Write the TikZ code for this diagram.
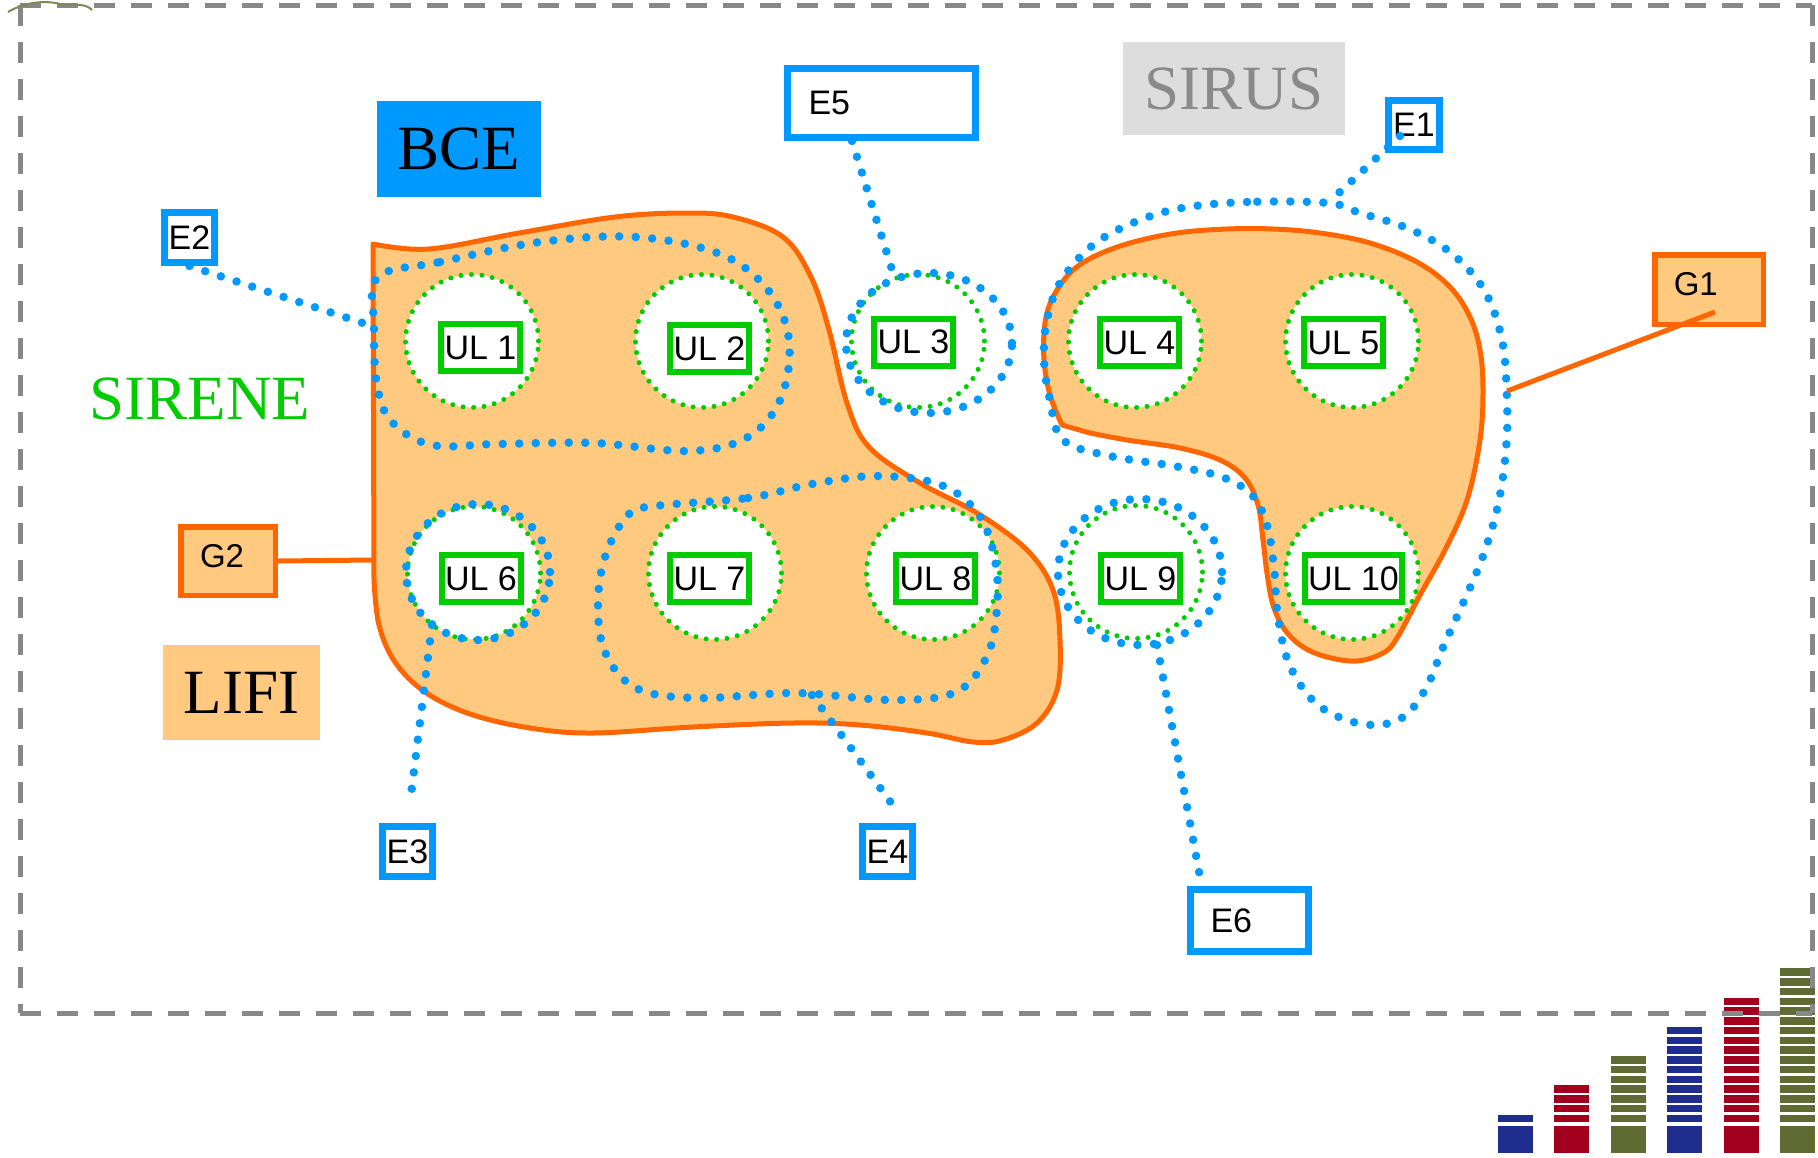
\documentclass[tikz,border=0pt]{standalone}
\usepackage{fontspec}
\setmainfont{Liberation Serif}
\setsansfont{Liberation Sans}
\definecolor{eblue}{HTML}{0099FF}
\definecolor{orstroke}{HTML}{FF6600}
\definecolor{orfill}{HTML}{FFCA80}
\definecolor{ulgreen}{HTML}{00CC00}
\definecolor{framegray}{HTML}{888888}
\definecolor{bargreen}{HTML}{5F6B32}
\definecolor{barred}{HTML}{A0001E}
\definecolor{barblue}{HTML}{1F2D8E}
\definecolor{sirusgray}{HTML}{DDDDDD}
\definecolor{sirustext}{HTML}{8A8A8A}
\begin{document}
\begin{tikzpicture}[x=1pt,y=-1pt,
  blob/.style={draw=orstroke, fill=orfill, line width=5pt, line join=round},
  bdot/.style={draw=eblue, line width=8.5pt, line cap=round, dash pattern=on 0pt off 16.5pt},
  gring/.style={circle, draw=ulgreen, fill=white, line width=5pt, line cap=round, dash pattern=on 0pt off 10.5pt, minimum size=133pt, inner sep=0pt},
  ulbox/.style={draw=ulgreen, fill=white, line width=6pt, minimum width=79pt, minimum height=47pt, inner sep=0pt, font=\sffamily\fontsize{34}{36}\selectfont},
  ebox/.style={draw=eblue, fill=white, line width=7pt, inner sep=0pt, font=\sffamily\fontsize{34}{36}\selectfont},
  gbox/.style={draw=orstroke, fill=orfill, line width=5.5pt, inner sep=0pt, font=\sffamily\fontsize{33}{36}\selectfont},
  big/.style={font=\fontsize{63}{70}\selectfont, inner sep=0pt},
  gline/.style={draw=orstroke, line width=5pt},
  framedash/.style={draw=framegray, line width=5pt, dash pattern=on 21pt off 16pt},
]
\useasboundingbox (0,0) rectangle (1818,1157);

% labels
\node[big, fill=eblue, minimum width=164pt, minimum height=96pt] (bce) at (459,149) {BCE};
\node[big, fill=sirusgray, text=sirustext, minimum width=222pt, minimum height=93pt] (sirus) at (1234,88.5) {SIRUS};
\node[big, fill=orfill, minimum width=157pt, minimum height=95pt] (lifi) at (241.5,692.5) {LIFI};
\node[big, text=ulgreen] (sirene) at (200,399) {SIRENE};

% orange regions
\draw[blob] plot[smooth, tension=0.6] coordinates {(373,244) (429,249) (519,233) (615,217) (686,213) (733,217) (783,237) (811,277) (829,330) (847,403) (869,447) (920,483) (977,513) (1027,550) (1053,590) (1060,640) (1057,690) (1037,723) (1003,740) (973,742) (927,733) (860,725) (793,723) (693,727) (593,733) (530,728) (470,714) (425,692) (395,662) (379,625) (374,580)} -- cycle;
\draw[blob] plot[smooth, tension=0.6] coordinates {(1062,425) (1050,395) (1044,360) (1045,323) (1053,297) (1070,273) (1093,257) (1130,243) (1177,233) (1227,229) (1273,229) (1320,233) (1370,243) (1417,262) (1450,287) (1470,317) (1480,350) (1483,390) (1480,440) (1467,500) (1445,550) (1420,595) (1397,638) (1383,653) (1357,661) (1327,657) (1303,647) (1285,630) (1273,605) (1267,573) (1263,540) (1258,505) (1245,478) (1220,460) (1180,448) (1127,440) (1090,433)} -- cycle;

% UL rings and boxes
\node[gring] (r1) at (472,341) {};
\node[gring] (r2) at (702,341) {};
\node[gring] (r3) at (918,341) {};
\node[gring] (r4) at (1135,341) {};
\node[gring] (r5) at (1352,341) {};
\node[gring] (r6) at (474,573) {};
\node[gring] (r7) at (715,573) {};
\node[gring] (r8) at (933,573) {};
\node[gring] (r9) at (1136,572) {};
\node[gring] (r10) at (1352,573) {};
\node[ulbox] (u1) at (480.5,347.5) {UL 1};
\node[ulbox] (u2) at (709.5,348.5) {UL 2};
\node[ulbox] (u3) at (913.5,342) {UL 3};
\node[ulbox] (u4) at (1139.5,342.5) {UL 4};
\node[ulbox] (u5) at (1343.5,342.5) {UL 5};
\node[ulbox] (u6) at (481,578.5) {UL 6};
\node[ulbox] (u7) at (709.5,578.5) {UL 7};
\node[ulbox] (u8) at (935.5,578.5) {UL 8};
\node[ulbox] (u9) at (1140.5,578.5) {UL 9};
\node[ulbox, minimum width=97pt] (u10) at (1353.5,578.5) {UL 10};

% blue dotted groupings
\draw[bdot] plot[smooth cycle, tension=0.6] coordinates {(378,277) (440,262) (540,242) (636,237) (720,254) (768,290) (789,340) (781,398) (748,437) (690,451) (594,443) (497,444) (432,445) (392,422) (377,385) (374,325)};
\draw[bdot] plot[smooth cycle, tension=0.6] coordinates {(655,506) (748,498) (812,484) (877,476) (941,485) (979,515) (995,560) (997,608) (987,656) (956,692) (892,700) (795,693) (697,698) (636,688) (605,652) (598,602) (606,554) (628,515)};
\draw[bdot] plot[smooth cycle, tension=0.6] coordinates {(1328,203) (1247,202) (1182,208) (1135,222) (1093,245) (1061,281) (1047,320) (1044,360) (1050,400) (1063,440) (1110,456) (1174,466) (1222,477) (1252,495) (1267,525) (1274,568) (1278,617) (1290,666) (1318,705) (1362,724) (1400,719) (1425,690) (1444,645) (1464,601) (1483,556) (1498,505) (1506,450) (1507,400) (1502,340) (1484,290) (1450,252) (1407,228) (1360,213)};
\draw[bdot] (929,343) ellipse [x radius=83pt, y radius=70pt];
\draw[bdot] (478,572) ellipse [x radius=72pt, y radius=68pt];
\draw[bdot] (1140,572) ellipse [x radius=82pt, y radius=73pt];

% points where connectors meet the groupings
\coordinate (c1) at (1328,203);
\coordinate (c2) at (375,327);
\coordinate (c3) at (432,625);
\coordinate (c4) at (812,695);
\coordinate (c5) at (893,273);
\coordinate (c6) at (1157,645);
\coordinate (cg1) at (1507,391);
\coordinate (cg2) at (373,560);

% E boxes
\node[ebox, minimum width=51pt, minimum height=49pt] (e1) at (1414,125) {E1};
\node[ebox, minimum width=50pt, minimum height=50pt] (e2) at (189.5,237.5) {E2};
\node[ebox, minimum width=50pt, minimum height=50pt] (e3) at (407.5,851.5) {E3};
\node[ebox, minimum width=50pt, minimum height=50pt] (e4) at (887.5,851.5) {E4};
\node[ebox, minimum width=188pt, minimum height=69pt, text width=146pt, inner xsep=21pt, align=left] (e5) at (881.5,103) {E5};
\node[ebox, minimum width=118pt, minimum height=62pt, text width=78pt, inner xsep=20pt, align=left] (e6) at (1249.5,920.5) {E6};

% connectors
\draw[bdot] ([xshift=-14pt,yshift=-11pt]e1.center) -- (c1);
\draw[bdot] (e2.south) -- (c2);
\draw[bdot, shorten >=29pt] (c3) -- (e3.north);
\draw[bdot] (c4) -- ([xshift=3pt,yshift=21pt]e4.north);
\draw[bdot] ([xshift=68pt]e5.south west) -- (c5);
\draw[bdot] (c6) -- ([xshift=13pt,yshift=9pt]e6.north west);

% G boxes
\node[gbox, minimum width=108.5pt, minimum height=69.5pt, text width=70.5pt, inner xsep=19pt, align=left, text depth=11pt] (g1) at (1709,289.5) {G1};
\node[gbox, minimum width=94.5pt, minimum height=68.5pt, text width=56pt, inner xsep=19.25pt, align=left, text depth=10pt] (g2) at (228,561) {G2};
\draw[gline] ([xshift=6pt,yshift=-22.5pt]g1.center) -- (cg1);
\draw[gline] (g2.east) -- (cg2);

% bars
\foreach \i/\c in {0/barblue,1/barred,2/bargreen,3/barblue,4/barred,5/bargreen}{
  \fill[\c] ({1498+56.4*\i},1126) rectangle ++(35,27);
  \pgfmathtruncatemacro\nstripes{3*\i}
  \foreach \k in {0,...,\nstripes}{
    \fill[\c] ({1498+56.4*\i},{1122-9.75*\k}) rectangle ++(35,-7.4);
  }
}

% frame
\draw[framedash] (20,5) -- (1812,5);
\draw[framedash] (20,5) -- (20,1013);
\draw[framedash] (20,1013) -- (1812,1013);
\draw[framedash] (1812,5) -- (1812,1013);

% small scribble top left
\draw[bargreen!80, line width=2pt] (8,12) .. controls (25,2) and (45,0) .. (60,4) .. controls (70,6) and (85,2) .. (92,10);
\end{tikzpicture}
\end{document}
